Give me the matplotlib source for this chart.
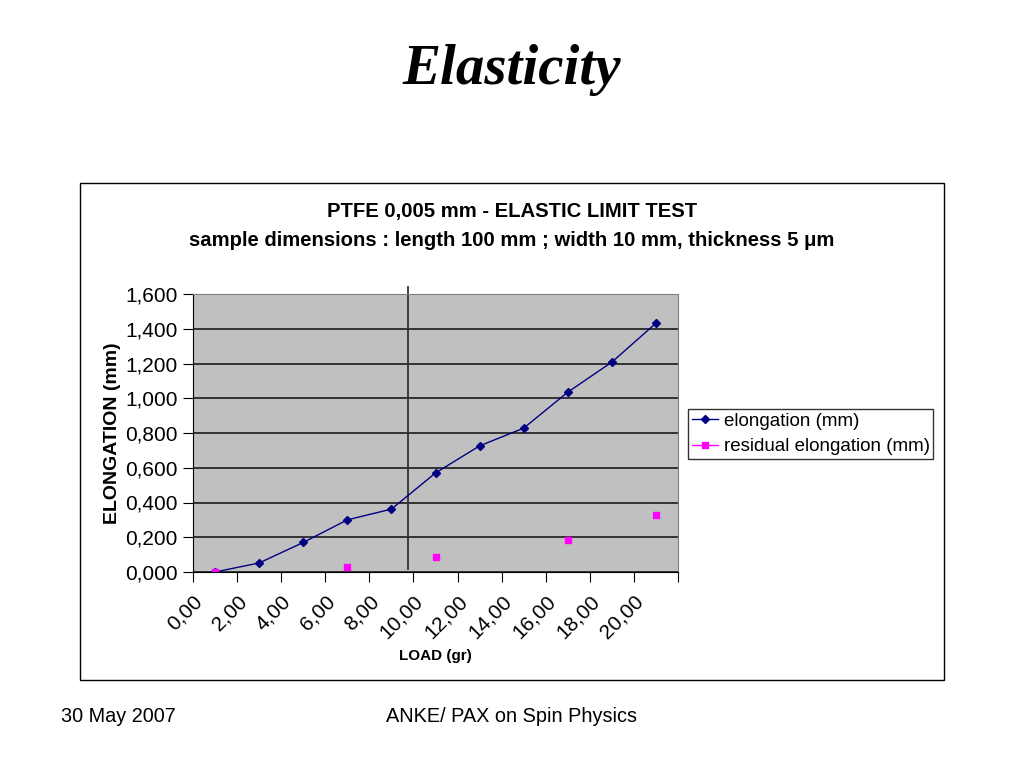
import matplotlib.pyplot as plt
from matplotlib.lines import Line2D
from matplotlib.patches import Rectangle
from matplotlib.ticker import FuncFormatter

plt.rcParams['font.family'] = ['Liberation Sans', 'DejaVu Sans']

# Data
load = [1, 3, 5, 7, 9, 11, 13, 15, 17, 19, 21]
elongation = [0.000, 0.052, 0.170, 0.300, 0.362, 0.570, 0.726, 0.828, 1.035, 1.208, 1.432]
res_load = [1, 7, 11, 17, 21]
residual = [0.000, 0.031, 0.088, 0.182, 0.328]
x_ticks = list(range(0, 23, 2))
x_labels = ['0,00', '2,00', '4,00', '6,00', '8,00', '10,00', '12,00',
            '14,00', '16,00', '18,00', '20,00', '']
y_ticks = [0, 0.2, 0.4, 0.6, 0.8, 1.0, 1.2, 1.4, 1.6]
limit_load = 9.73

fig = plt.figure(figsize=(10.24, 7.68), dpi=100)

# page title and footer
fig.text(0.5, 1 - 70 / 768, 'Elasticity', ha='center', va='center', fontsize=41,
         family='Liberation Serif', weight='bold', style='italic')
fig.text(0.06, 1 - 717 / 768, '30 May 2007', ha='left', va='center', fontsize=14.3)
fig.text(0.5, 1 - 717 / 768, 'ANKE/ PAX on Spin Physics', ha='center', va='center', fontsize=14.3)

# chart frame
fig.patches.append(Rectangle((80 / 1024, 1 - 680 / 768), 864 / 1024, 497 / 768,
                             transform=fig.transFigure, fill=False, ec='black', lw=1))
fig.text(0.5, 1 - 212 / 768, 'PTFE 0,005 mm - ELASTIC LIMIT TEST', ha='center',
         va='center', fontsize=14.6, weight='bold')
fig.text(0.5, 1 - 240 / 768, 'sample dimensions : length 100 mm ; width 10 mm, thickness 5 \u03bcm',
         ha='center', va='center', fontsize=14.6, weight='bold')

ax = fig.add_axes([193 / 1024, 1 - 572 / 768, 485 / 1024, 278 / 768])
ax.set_facecolor('#C0C0C0')
ax.set_xlim(0, 22)
ax.set_ylim(0, 1.6)
ax.set_yticks(y_ticks)
ax.yaxis.set_major_formatter(FuncFormatter(lambda v, p: f'{v:.3f}'.replace('.', ',')))
ax.set_xticks(x_ticks)
ax.set_xticklabels(x_labels, rotation=45, ha='right', rotation_mode='anchor')
ax.tick_params(axis='both', labelsize=15, direction='out', length=7, color='black')
ax.tick_params(axis='x', pad=7)
ax.tick_params(axis='y', pad=4)
ax.grid(axis='y', color='#333333', lw=1.4)
ax.set_axisbelow(True)
for side in ['top', 'right']:
    ax.spines[side].set_color('#808080')
for side in ['left', 'bottom']:
    ax.spines[side].set_color('black')

ax.plot([limit_load, limit_load], [0.02, 1.64], color='#333333', lw=1.3, clip_on=False)
ax.plot(load, elongation, color='#000080', lw=1, marker='D', ms=4,
        label='elongation (mm)')
ax.plot(res_load, residual, ls='none', color='#FF00FF', marker='s', ms=5,
        label='residual elongation (mm)')

ax.set_ylabel('ELONGATION (mm)', fontsize=14, weight='bold', labelpad=3)
ax.set_xlabel('LOAD (gr)', fontsize=11, weight='bold', labelpad=5)

handles = [Line2D([], [], color='#000080', lw=1, marker='D', ms=4),
           Line2D([], [], color='#FF00FF', lw=1, marker='s', ms=4)]
leg = fig.legend(handles, ['elongation (mm)', 'residual elongation (mm)'],
                 loc='center left', bbox_to_anchor=(688 / 1024, 1 - 434 / 768),
                 fontsize=13.5, frameon=True, fancybox=False, edgecolor='black',
                 handlelength=1.4, handletextpad=0.3, borderpad=0.2,
                 labelspacing=0.45, borderaxespad=0)
leg.get_frame().set_linewidth(1)

fig.savefig('out.png', dpi=100)
